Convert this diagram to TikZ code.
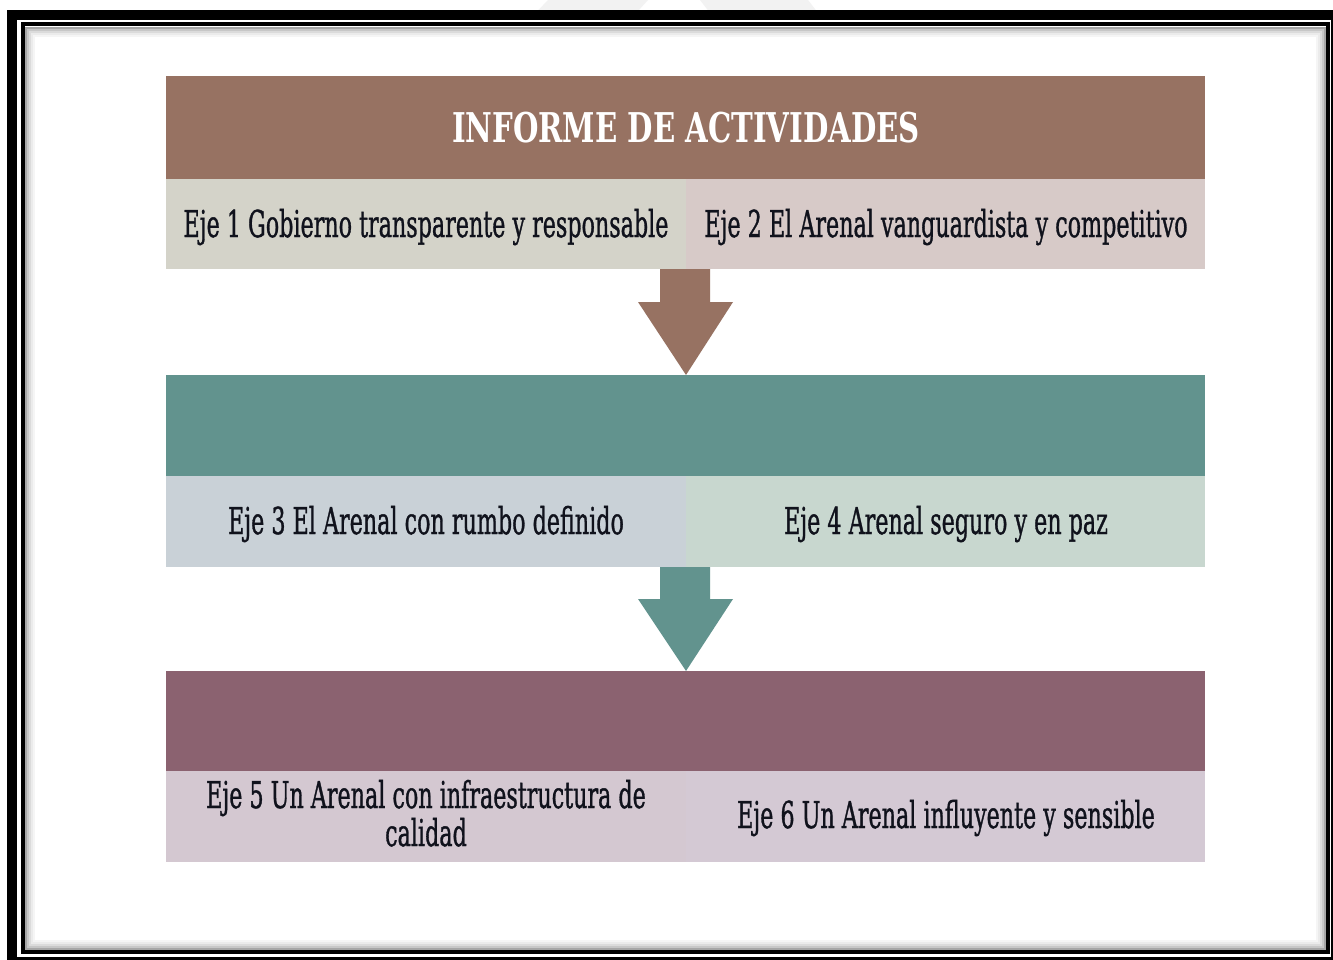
\documentclass[tikz,border=0pt]{standalone}
\usepackage{fontspec}
\usepackage{graphicx}
\newfontfamily\bodyfont[FakeBold=1.3]{DejaVu Serif}
\newfontfamily\titlefont{DejaVu Serif}
\definecolor{hdrbrown}{HTML}{977262}
\definecolor{hdrteal}{HTML}{62938E}
\definecolor{hdrmauve}{HTML}{8B6270}
\definecolor{cellA}{HTML}{D4D3C9}
\definecolor{cellB}{HTML}{D7CAC8}
\definecolor{cellC}{HTML}{C9D1D7}
\definecolor{cellD}{HTML}{C8D7CF}
\definecolor{cellE}{HTML}{D4C8D1}
\definecolor{cellF}{HTML}{D4C9D4}
\definecolor{inktext}{HTML}{10121C}
\newlength\refw
\newlength\titw
\newcommand\bodysize{\fontsize{37}{38}\selectfont\bodyfont}
\newcommand\titlesize{\fontsize{41}{44}\selectfont\titlefont\bfseries}
\begin{document}
\settowidth{\refw}{\bodysize Eje 1 Gobierno transparente y responsable}%
\settowidth{\titw}{\titlesize INFORME DE ACTIVIDADES}%
\pgfmathsetmacro\sx{485/\refw}%
\pgfmathsetmacro\tx{468/\titw}%
\begin{tikzpicture}[x=1pt,y=-1pt,
  lbl/.style={inner sep=0pt, anchor=base, text=inktext}]
\useasboundingbox (0,0) rectangle (1333,960);
% page background
\fill[white] (0,0) rectangle (1333,960);
% faint watermark at top
\fill[black!5] (527,22) -- (548,0) -- (648,0) -- (628,22) -- cycle;
\fill[black!5] (717,22) -- (700,0) -- (808,0) -- (825,22) -- cycle;
% outer thick frame
\fill[black] (7,10) rectangle (1345,975);
\fill[white] (17,20) rectangle (1331,957);
% inner shadow
\foreach \d/\c in {10/4,8/8,6/14,4/22,2/35}{
  \draw[black!\c, line width=2.2pt] (24+\d,26+\d) rectangle (1327-\d,951-\d);
}
\draw[black, line width=4pt] (22.5,24) rectangle (1328,952);
% ---- block 1
\fill[hdrbrown] (166,76) rectangle (1205,179);
\node[lbl, text=white] (title) at (686,143) {\scalebox{\tx}[1]{\titlesize INFORME DE ACTIVIDADES}};
\fill[cellA] (166,179) rectangle (686,269);
\fill[cellB] (686,179) rectangle (1205,269);
\node[lbl] (e1) at (426,237) {\scalebox{\sx}[1]{\bodysize Eje 1 Gobierno transparente y responsable}};
\node[lbl] (e2) at (946,237) {\scalebox{\sx}[1]{\bodysize Eje 2 El Arenal vanguardista y competitivo}};
% arrow 1
\fill[hdrbrown] (660,269) -- (710,269) -- (710,302) -- (733,302) -- (686,375) -- (638,302) -- (660,302) -- cycle;
% ---- block 2
\fill[hdrteal] (166,375) rectangle (1205,476);
\fill[cellC] (166,476) rectangle (686,567);
\fill[cellD] (686,476) rectangle (1205,567);
\node[lbl] (e3) at (426,534) {\scalebox{\sx}[1]{\bodysize Eje 3 El Arenal con rumbo definido}};
\node[lbl] (e4) at (946,534) {\scalebox{\sx}[1]{\bodysize Eje 4 Arenal seguro y en paz}};
% arrow 2
\fill[hdrteal] (660,567) -- (710,567) -- (710,599) -- (733,599) -- (686,671) -- (638,599) -- (660,599) -- cycle;
% ---- block 3
\fill[hdrmauve] (166,671) rectangle (1205,771);
\fill[cellE] (166,771) rectangle (686,862);
\fill[cellF] (686,771) rectangle (1205,862);
\node[lbl] (e5a) at (426,808) {\scalebox{\sx}[1]{\bodysize Eje 5 Un Arenal con infraestructura de}};
\node[lbl] (e5b) at (426,846) {\scalebox{\sx}[1]{\bodysize calidad}};
\node[lbl] (e6) at (946,828) {\scalebox{\sx}[1]{\bodysize Eje 6 Un Arenal influyente y sensible}};
\end{tikzpicture}
\end{document}
